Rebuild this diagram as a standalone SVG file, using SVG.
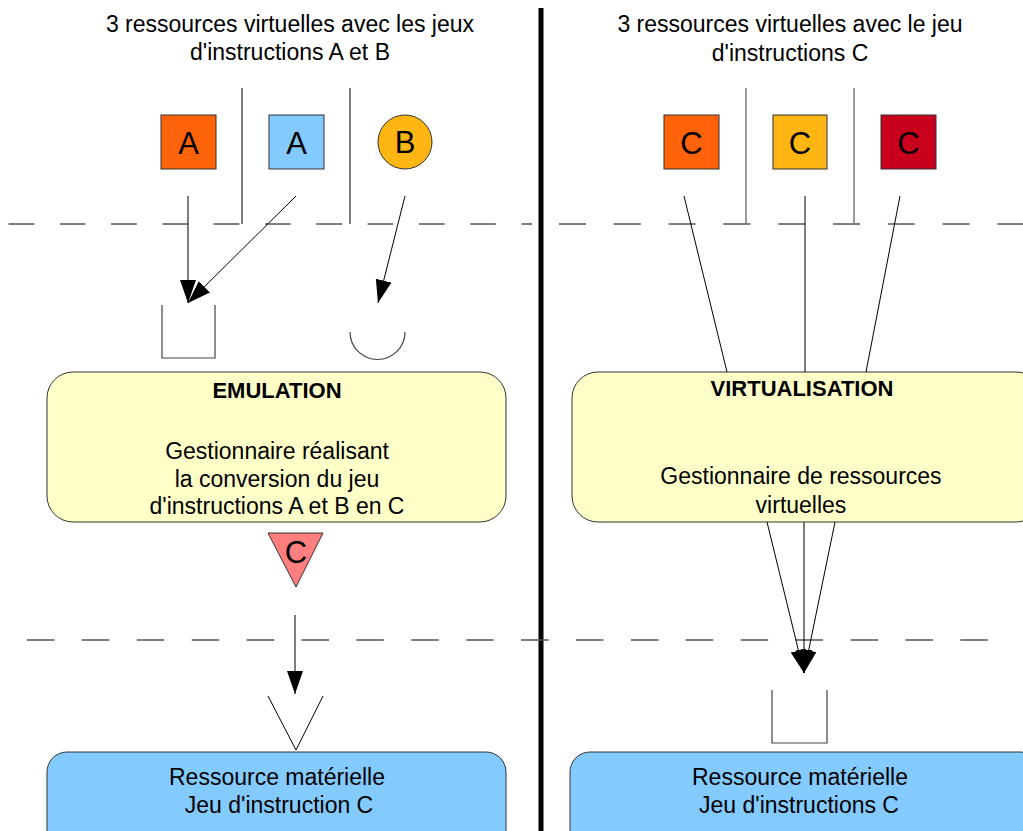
<svg xmlns="http://www.w3.org/2000/svg" width="1023" height="831" viewBox="0 0 1023 831">
<style>
text{font-family:"Liberation Sans",Arial,sans-serif;fill:#000;text-anchor:middle}
.t{font-size:23px}
.h{font-size:22px;font-weight:bold}
.big{font-size:31px}
.res{stroke:#333;stroke-width:1}
.ln{stroke:#000;stroke-width:1;fill:none}
.cup{stroke:#444;stroke-width:1.2;fill:none}
</style>
<defs>
<marker id="ah" markerUnits="userSpaceOnUse" markerWidth="24" markerHeight="18" refX="23" refY="8" orient="auto">
<path d="M0,0 L23,8 L0,16 z" fill="#000"/>
</marker>
</defs>
<rect width="1023" height="831" fill="#fff"/>
<g id="separators">
<line x1="541" y1="8" x2="541" y2="831" stroke="#000" stroke-width="5"/>
<line x1="8.5" y1="224" x2="532" y2="224" stroke="#000" stroke-width="1" stroke-dasharray="25.7 25.6"/>
<line x1="559" y1="224" x2="1023" y2="224" stroke="#000" stroke-width="1" stroke-dasharray="27 27.8"/>
<line x1="27" y1="640" x2="988" y2="640" stroke="#555" stroke-width="1.6" stroke-dasharray="27.5 27.4"/>
<line x1="242" y1="88" x2="242" y2="224" stroke="#222" stroke-width="1.2"/>
<line x1="350" y1="88" x2="350" y2="224" stroke="#222" stroke-width="1.2"/>
<line x1="746" y1="88" x2="746" y2="224" stroke="#777" stroke-width="1.5"/>
<line x1="854" y1="88" x2="854" y2="224" stroke="#777" stroke-width="1.5"/>
</g>
<g id="headers">
<text class="t" x="290" y="32">3 ressources virtuelles avec les jeux</text>
<text class="t" x="290" y="60">d'instructions A et B</text>
<text class="t" x="790" y="32">3 ressources virtuelles avec le jeu</text>
<text class="t" x="790" y="61">d'instructions C</text>
</g>
<g id="resA1"><rect class="res" x="161" y="115" width="55" height="54" fill="#ff6309"/><text class="big" x="188.5" y="154">A</text></g>
<g id="resA2"><rect class="res" x="269" y="115" width="55" height="54" fill="#83caff"/><text class="big" x="296.5" y="154">A</text></g>
<g id="resB"><circle class="res" cx="405" cy="142" r="27" fill="#ffb612"/><text class="big" x="405" y="153">B</text></g>
<g id="resC1"><rect class="res" x="664" y="115" width="55" height="54" fill="#ff6309"/><text class="big" x="691.5" y="154">C</text></g>
<g id="resC2"><rect class="res" x="773" y="115" width="54" height="54" fill="#ffb612"/><text class="big" x="800" y="154">C</text></g>
<g id="resC3"><rect class="res" x="881" y="115" width="55" height="54" fill="#c9001c"/><text class="big" x="908.5" y="154">C</text></g>
<g id="cupSquare"><path class="cup" d="M162,305 V358 H215 V305"/></g>
<g id="cupRound"><path class="cup" d="M350,332 A27.5,27.5 0 0 0 405,332"/></g>
<g id="emulation">
<rect x="47" y="372" width="459" height="150" rx="26" ry="26" fill="#ffffc8" stroke="#333" stroke-width="1"/>
<text class="h" x="277" y="398">EMULATION</text>
<text class="t" x="277" y="459">Gestionnaire réalisant</text>
<text class="t" x="277" y="487">la conversion du jeu</text>
<text class="t" x="277" y="514">d'instructions A et B en C</text>
</g>
<g id="virtualisation">
<rect x="572" y="372" width="470" height="150" rx="26" ry="26" fill="#ffffc8" stroke="#333" stroke-width="1"/>
<text class="h" x="802" y="396">VIRTUALISATION</text>
<text class="t" x="801" y="484">Gestionnaire de ressources</text>
<text class="t" x="801" y="513">virtuelles</text>
</g>
<g id="triC"><path d="M268,533 H323 L296,587 z" fill="#ff7f7f" stroke="#333" stroke-width="1"/><text class="big" x="296" y="563">C</text></g>
<g id="vShape"><path class="ln" d="M268,696 L296,750 L323,696" stroke="#222"/></g>
<g id="cupBottom"><path class="cup" d="M772,690 V743 H827 V690"/></g>
<g id="hw1">
<rect x="47" y="752" width="459" height="100" rx="20" ry="20" fill="#83caff" stroke="#333" stroke-width="1"/>
<text class="t" x="277" y="785">Ressource matérielle</text>
<text class="t" x="279" y="813">Jeu d'instruction C</text>
</g>
<g id="hw2">
<rect x="570" y="752" width="470" height="100" rx="20" ry="20" fill="#83caff" stroke="#333" stroke-width="1"/>
<text class="t" x="800" y="785">Ressource matérielle</text>
<text class="t" x="799" y="813">Jeu d'instructions C</text>
</g>
<g id="connectors">
<line class="ln" x1="188" y1="196" x2="188" y2="303" marker-end="url(#ah)"/>
<line class="ln" x1="296" y1="196" x2="188" y2="303" marker-end="url(#ah)"/>
<line class="ln" x1="405" y1="196" x2="378" y2="303" marker-end="url(#ah)"/>
<line class="ln" x1="684" y1="196" x2="727" y2="372"/>
<line class="ln" x1="805" y1="196" x2="805" y2="372"/>
<line class="ln" x1="900" y1="196" x2="866" y2="372"/>
<line class="ln" x1="767" y1="522" x2="804" y2="673" marker-end="url(#ah)"/>
<line class="ln" x1="804" y1="522" x2="804" y2="673" marker-end="url(#ah)"/>
<line class="ln" x1="835" y1="522" x2="804" y2="673" marker-end="url(#ah)"/>
<line class="ln" x1="295" y1="615" x2="295" y2="694" marker-end="url(#ah)"/>
</g>
</svg>
